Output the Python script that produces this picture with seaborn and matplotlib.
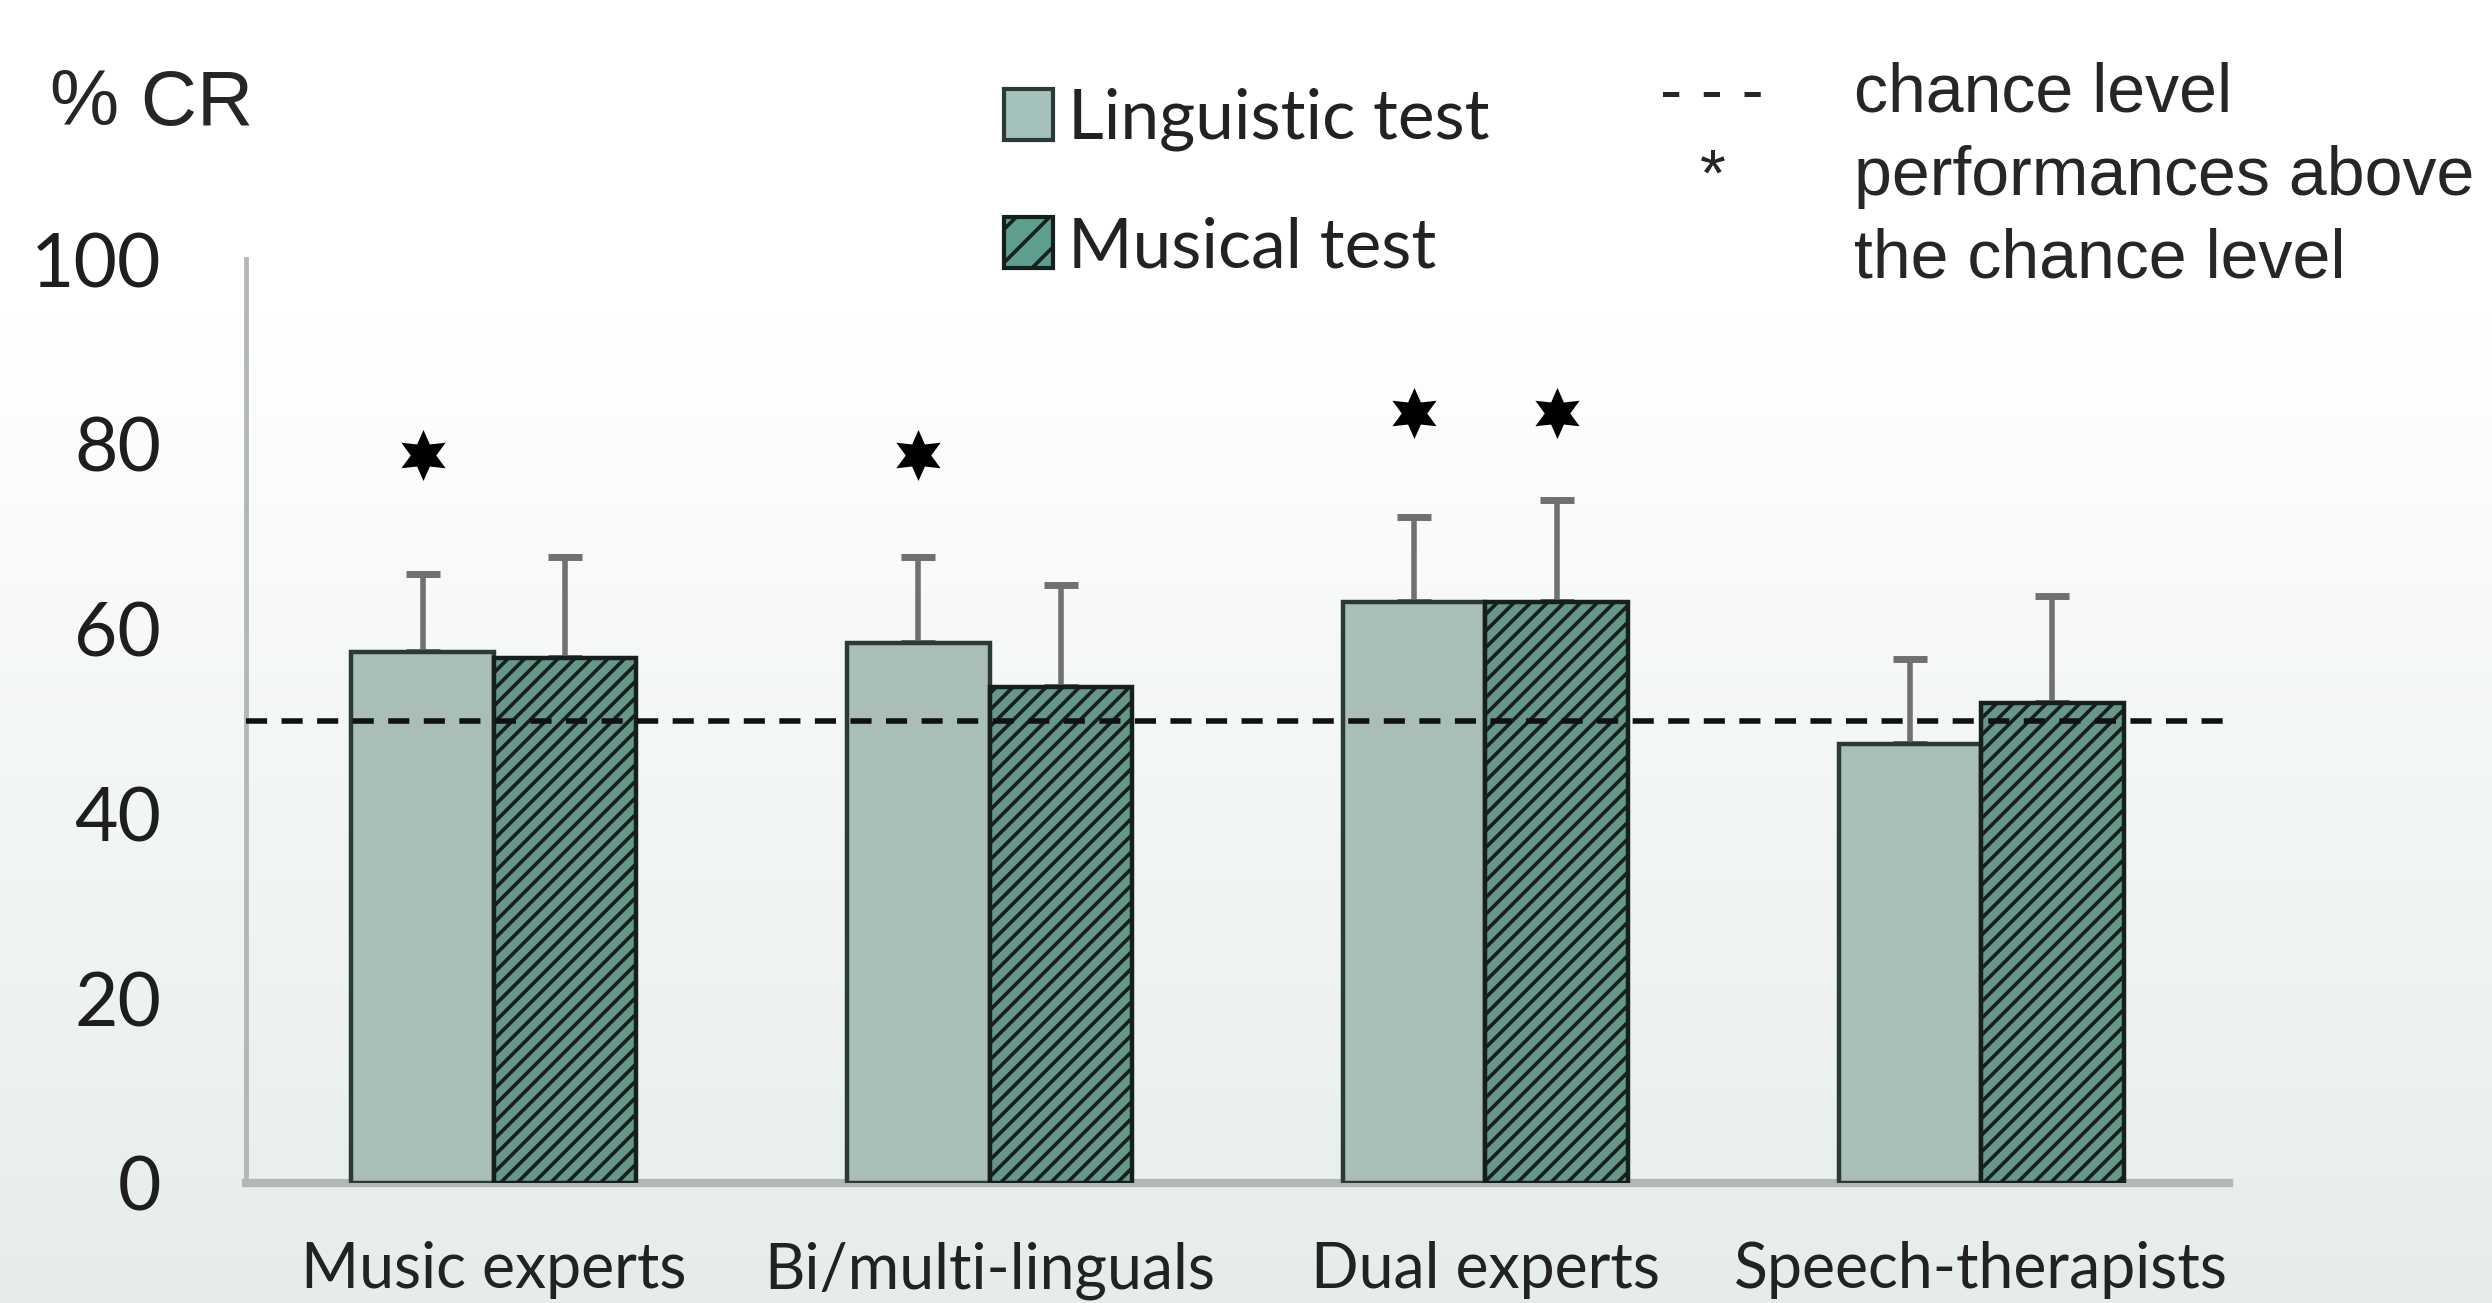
import numpy as np
import pandas as pd
import matplotlib.pyplot as plt
import seaborn as sns
from matplotlib.patches import Patch

# data
groups = ["Music experts", "Bi/multi-linguals", "Dual experts", "Speech-therapists"]
tests = ["Linguistic test", "Musical test"]
linguistic = [57.5, 58.4, 62.9, 47.5]
musical = [56.8, 53.7, 62.9, 52.0]
linguistic_err = [8.4, 9.4, 9.2, 9.2]
musical_err = [11.0, 11.0, 11.0, 11.5]
linguistic_star = [True, True, True, False]
musical_star = [False, False, True, False]
star_height = [78.8, 78.8, 83.3, 83.3]
chance = 50
yticks = [0, 20, 40, 60, 80, 100]

df = pd.DataFrame({
    "group": groups * 2,
    "test": [tests[0]] * 4 + [tests[1]] * 4,
    "score": linguistic + musical,
})

sns.set_style("white")
plt.rcParams["hatch.linewidth"] = 2.6

fill_ling = "#a5c1bb"
fill_mus = "#5f9e8f"
edge = "#2b3a36"
grey = "#b3b7b7"

fig = plt.figure(figsize=(24.92, 13.03), dpi=100)

# soft background gradient
bg = fig.add_axes([0, 0, 1, 1], zorder=-10)
t = np.linspace(0, 1, 400)
top_c = np.array([1.0, 1.0, 1.0])
bot_c = np.array([0xe6, 0xec, 0xec]) / 255
w = np.clip((t - 0.24) / 0.76, 0, 1)[:, None]
grad = top_c * (1 - w) + bot_c * w
bg.imshow(grad[:, None, :], aspect="auto", extent=[0, 1, 0, 1])
bg.axis("off")

ax = fig.add_axes([0.0987, 0.0921, 0.7958, 0.7091])
ax.set_facecolor("none")

sns.barplot(data=df, x="group", y="score", hue="test", order=groups, hue_order=tests,
            palette=[fill_ling, fill_mus], width=0.575, errorbar=None,
            edgecolor=edge, linewidth=3.2, legend=False, ax=ax, zorder=3)

for p in ax.containers[1]:
    p.set_hatch("//")
    p.set_edgecolor("#151f1c")

# error bars (upper only) and stars
for cont, err, stars in [(ax.containers[0], linguistic_err, linguistic_star),
                         (ax.containers[1], musical_err, musical_star)]:
    xs = [p.get_x() + p.get_width() / 2 for p in cont]
    ys = [p.get_height() for p in cont]
    ax.errorbar(xs, ys, yerr=[np.zeros(len(err)), err], fmt="none", ecolor="#707070",
                elinewidth=4, capsize=12, capthick=5, zorder=2)
    sx = [x for x, s in zip(xs, stars) if s]
    sy = [h for h, s in zip(star_height, stars) if s]
    ax.scatter(sx, sy, marker=(6, 1, 0), s=1350, color="black", zorder=4, linewidths=0)

ax.axhline(chance, color="#111111", lw=4, dashes=(3.8, 2.6), zorder=5)

ax.set_xlim(-0.5, 3.5)
ax.set_ylim(0, 100)
ax.set_yticks(yticks)
ax.set_xlabel("")
ax.set_ylabel("")
for s in ["top", "right"]:
    ax.spines[s].set_visible(False)
for s in ["left", "bottom"]:
    ax.spines[s].set_color(grey)
    ax.spines[s].set_linewidth(3.5)
ax.spines["bottom"].set_linewidth(6)

ax.set_xticks(np.arange(-0.5, 4, 1), minor=True)
ax.tick_params(axis="x", which="major", length=0, pad=42, labelsize=45, labelcolor="#222222")
ax.tick_params(axis="x", which="minor", length=22, width=3, color=grey, direction="out")
ax.tick_params(axis="y", length=21, width=3.5, color=grey, direction="out", pad=40,
               labelsize=54, labelcolor="#1e1e1e")
for lab in ax.get_xticklabels():
    lab.set_family("Lato")
for lab in ax.get_yticklabels():
    lab.set_family("Lato")

# legend
handles = [Patch(facecolor=fill_ling, edgecolor=edge, linewidth=3, label=tests[0]),
           Patch(facecolor=fill_mus, edgecolor="#151f1c", linewidth=3, hatch="/", label=tests[1])]
fig.legend(handles=handles, loc="upper left", bbox_to_anchor=(0.403, 0.933), frameon=False,
           prop={"family": "Lato", "size": 50}, handlelength=0.7, handleheight=0.75,
           handletextpad=0.22, labelspacing=0.94, borderpad=0, borderaxespad=0,
           labelcolor="#222222")

# notes
fig.text(0.02, 1 - 125 / 1303, "% CR", family="Liberation Sans", fontsize=56, va="baseline")
fig.text(1660 / 2492, 1 - 112 / 1303, "- - -", family="Liberation Sans", fontsize=48, va="baseline")
fig.text(1713 / 2492, 1 - 196 / 1303, "*", family="Liberation Sans", fontsize=48, va="baseline",
         ha="center")
for yy, txt in [(112, "chance level"), (195, "performances above"), (277, "the chance level")]:
    fig.text(1854 / 2492, 1 - yy / 1303, txt, family="Liberation Sans", fontsize=49, va="baseline")

fig.savefig("out.png", dpi=100)
